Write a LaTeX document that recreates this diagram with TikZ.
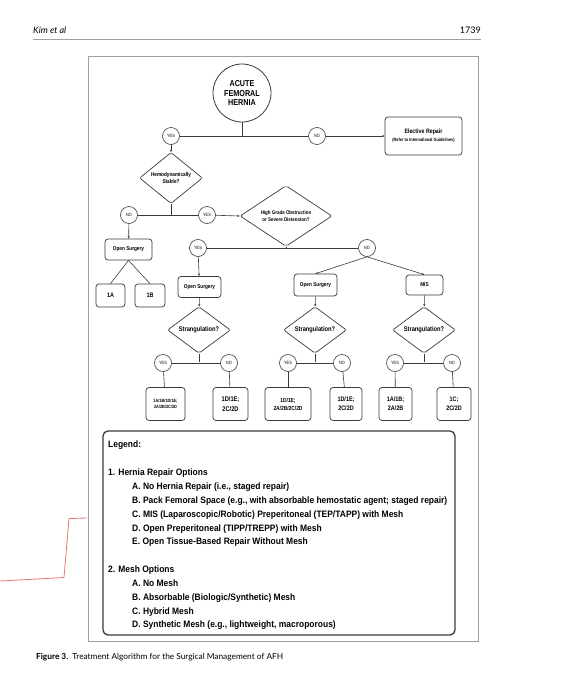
\documentclass[tikz,border=0pt]{standalone}
\usepackage{fontspec}
\setmainfont{Lato}
\newfontfamily\chartfont{Liberation Sans}[FakeStretch=0.84]
\newfontfamily\legendfont{Liberation Sans}[FakeStretch=0.91]
\usepackage{xcolor}
\usepackage{tikz}
\usetikzlibrary{positioning}
\usetikzlibrary{shapes.geometric,arrows.meta}

\definecolor{linegray}{HTML}{3A3A3A}
\definecolor{framegray}{HTML}{A0A0A0}
\definecolor{inkred}{HTML}{E8756E}
\newcommand{\fs}[1]{\fontsize{#1}{1.2\dimexpr#1pt\relax}\selectfont}

\begin{document}
\begin{tikzpicture}
                [x=1pt, y=-1pt,
                 box/.style = {draw=linegray, line width=0.7pt, rounded corners=3pt, fill=white, align=center, inner sep=0pt},
                 ans/.style = {circle, draw=linegray, line width=0.6pt, minimum size=17pt, inner sep=0pt, fill=white, font=\chartfont\fs{4.6}},
                 ask/.style = {diamond, draw=linegray, line width=0.7pt, rounded corners=2pt, inner sep=0pt, fill=white, align=center},
                 link/.style = {draw=linegray, line width=0.6pt},
                 arr/.style = {link, -{Stealth[length=2.5pt,width=2.2pt]}},
                 legline/.style = {anchor=base west, inner sep=0pt, font=\legendfont\bfseries\fs{9.3}}]
                \useasboundingbox (0,0) rectangle (575,680);
                % page header and frame
                \node[anchor=base west, inner sep=0pt] (author) at (33,34) {\fs{9}\itshape Kim et al};
                \node[anchor=base east, inner sep=0pt] (page) at (481,34) {\fs{9}1739};
                \draw[framegray, line width=1.3pt] (33,39.5) -- (481,39.5);
                \draw[framegray, line width=1pt] (88,56) rectangle (478,641);
                % start
                \node[circle, draw=linegray, line width=0.8pt, minimum size=58pt, inner sep=0pt, align=center, font=\chartfont\bfseries\fontsize{8.6}{9.8}\selectfont] (acute) at (242,93) {ACUTE\\FEMORAL\\HERNIA};
                \coordinate (j1) at (242,136);
                \node[ans] (yes1) at (171,136) {YES};
                \node[ans] (no1) at (317,136) {NO};
                \node[box, minimum width=77pt, minimum height=38pt, font=\chartfont\bfseries\fontsize{6.3}{8}\selectfont] (elective) at (423.5,136) {Elective Repair\\{\fs{4.6}(Refer to International Guidelines)}};
                % stable?
                \node[ask, minimum width=63pt, minimum height=39pt, font=\chartfont\bfseries\fontsize{5.6}{7}\selectfont] (hemo) at (171,178) {Hemodynamically\\Stable?};
                \coordinate (j2) at (171,215);
                \node[ans] (no2) at (129,215) {NO};
                \node[ans] (yes2) at (207,215) {YES};
                \node[box, minimum width=47pt, minimum height=21pt, font=\chartfont\bfseries\fs{5.6}] (os1) at (128.5,249.5) {Open Surgery};
                \node[box, minimum width=29pt, minimum height=23pt, font=\chartfont\bfseries\fs{6.5}] (a1) at (110.5,295.5) {1A};
                \node[box, minimum width=30pt, minimum height=23pt, font=\chartfont\bfseries\fs{6.5}] (b1) at (150,295.5) {1B};
                % obstruction?
                \node[ask, minimum width=92pt, minimum height=52pt, font=\chartfont\bfseries\fontsize{5.3}{6.4}\selectfont] (grade) at (286,216) {High Grade Obstruction\\or Severe Distension?};
                \coordinate (j3) at (286,248);
                \node[ans] (yes3) at (198,248) {YES};
                \node[ans] (no3) at (367,248) {NO};
                \node[box, minimum width=43pt, minimum height=21pt, font=\chartfont\bfseries\fs{5.6}] (os2) at (199.5,287) {Open Surgery};
                \node[box, minimum width=43pt, minimum height=22pt, font=\chartfont\bfseries\fs{5.6}] (os3) at (315.5,285) {Open Surgery};
                \node[box, minimum width=37pt, minimum height=20pt, font=\chartfont\bfseries\fs{5.6}] (mis) at (424.5,285) {MIS};
                % strangulation?
                \node[ask, minimum width=63pt, minimum height=39pt, font=\chartfont\bfseries\fs{6.8}] (str1) at (199,330) {Strangulation?};
                \node[ask, minimum width=63pt, minimum height=39pt, font=\chartfont\bfseries\fs{6.8}] (str2) at (315,330) {Strangulation?};
                \node[ask, minimum width=63pt, minimum height=39pt, font=\chartfont\bfseries\fs{6.8}] (str3) at (424,330) {Strangulation?};
                \coordinate (j4) at (199,362);
                \coordinate (j5) at (315,362);
                \coordinate (j6) at (424,362);
                \node[ans] (yes4) at (163,363) {YES};
                \node[ans] (no4) at (229,363) {NO};
                \node[ans] (yes5) at (288,363) {YES};
                \node[ans] (no5) at (342,363) {NO};
                \node[ans] (yes6) at (395,363) {YES};
                \node[ans] (no6) at (452,363) {NO};
                % outcomes
                \node[box, minimum width=39pt, minimum height=33pt, font=\chartfont\bfseries\fontsize{4.6}{6}\selectfont] (r1) at (165.5,404) {1A/1B/1D/1E;\\2A/2B/2C/2D};
                \node[box, minimum width=35pt, minimum height=33pt, font=\chartfont\bfseries\fontsize{6.8}{9.5}\selectfont] (r2) at (230.5,404) {1D/1E;\\2C/2D};
                \node[box, minimum width=46pt, minimum height=33pt, font=\chartfont\bfseries\fontsize{5.8}{8}\selectfont] (r3) at (288,404) {1D/1E;\\2A/2B/2C/2D};
                \node[box, minimum width=32pt, minimum height=33pt, font=\chartfont\bfseries\fontsize{6.5}{9}\selectfont] (r4) at (346,404) {1D/1E;\\2C/2D};
                \node[box, minimum width=33pt, minimum height=33pt, font=\chartfont\bfseries\fontsize{6.5}{9}\selectfont] (r5) at (395.5,404) {1A/1B;\\2A/2B};
                \node[box, minimum width=34pt, minimum height=33pt, font=\chartfont\bfseries\fontsize{6.5}{9}\selectfont] (r6) at (454,404) {1C;\\2C/2D};
                % Lines
                \draw[link] (acute) -- (j1);
                \draw[link] (yes1) -- (no1);
                \draw[arr] (no1) -- (elective);
                \draw[arr] (yes1) -- (hemo);
                \draw[link] (hemo) -- (j2);
                \draw[link] (no2) -- (yes2);
                \draw[arr] (yes2) -- (grade.west);
                \draw[arr] (no2) -- (os1);
                \draw[link] (os1.south) -- (a1.north);
                \draw[link] (os1.south) -- (b1.north);
                \draw[link] (grade) -- (j3);
                \draw[link] (yes3) -- (no3);
                \draw[arr] (yes3) -- (os2);
                \draw[arr] (no3.south) -- (os3.north);
                \draw[arr] (no3.south) -- (mis.north);
                \draw[arr] (os2) -- (str1);
                \draw[arr] (os3) -- (str2);
                \draw[arr] (mis) -- (str3);
                \draw[link] (str1) -- (j4);
                \draw[link] (str2) -- (j5);
                \draw[link] (str3) -- (j6);
                \draw[link] (yes4) -- (no4);
                \draw[link] (yes5) -- (no5);
                \draw[link] (yes6) -- (no6);
                \draw[link] (yes4) -- (r1);
                \draw[link] (no4) -- (r2);
                \draw[link] (yes5) -- (r3);
                \draw[link] (no5) -- (r4);
                \draw[link] (yes6) -- (r5);
                \draw[link] (no6) -- (r6);
                % legend
                \draw[draw=linegray, line width=1.3pt, rounded corners=5pt] (103,431) rectangle (455,635);
                \node[legline] (legend) at (108,447.5) {Legend:};
                \node[legline] (rep) at (108,475.5) {1. Hernia Repair Options};
                \node[legline] (repA) at (132,489) {A. No Hernia Repair (i.e., staged repair)};
                \node[legline] (repB) at (132,503) {B. Pack Femoral Space (e.g., with absorbable hemostatic agent; staged repair)};
                \node[legline] (repC) at (132,517.5) {C. MIS (Laparoscopic/Robotic) Preperitoneal (TEP/TAPP) with Mesh};
                \node[legline] (repD) at (132,531) {D. Open Preperitoneal (TIPP/TREPP) with Mesh};
                \node[legline] (repE) at (132,544.5) {E. Open Tissue{-}Based Repair Without Mesh};
                \node[legline] (mesh) at (108,572.5) {2. Mesh Options};
                \node[legline] (meshA) at (132,586.5) {A. No Mesh};
                \node[legline] (meshB) at (132,600.5) {B. Absorbable (Biologic/Synthetic) Mesh};
                \node[legline] (meshC) at (132,614) {C. Hybrid Mesh};
                \node[legline] (meshD) at (132,627.5) {D. Synthetic Mesh (e.g., lightweight, macroporous)};
                % caption and pen mark
                \node[anchor=base west, inner sep=0pt] (caption) at (36,659) {\fs{8.3}\textbf{Figure 3.}\enspace Treatment Algorithm for the Surgical Management of AFH};
                \draw[inkred, line width=0.8pt, line join=round] (0,581) -- (28,579.5) -- (64,577.5) -- (65.5,560) -- (69,518.5) -- (87,518);
            \end{tikzpicture}
\end{document}
